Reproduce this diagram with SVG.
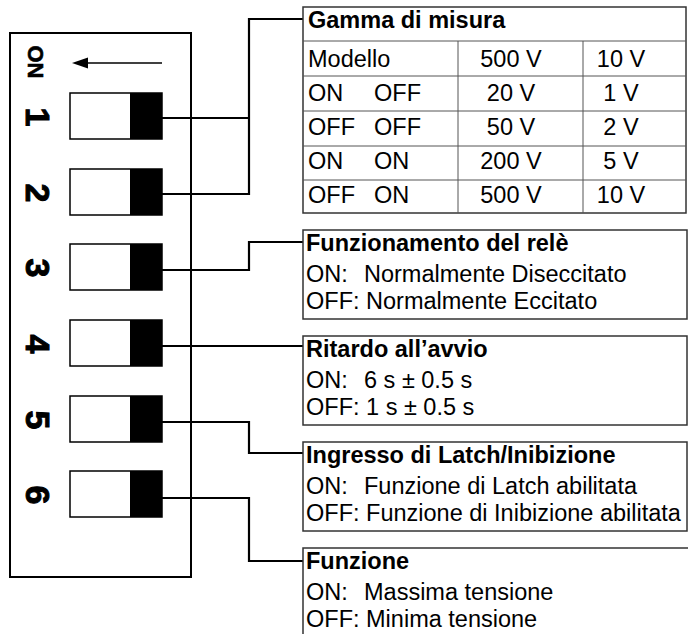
<svg xmlns="http://www.w3.org/2000/svg" width="688" height="634" viewBox="0 0 688 634">
<style>
text{font-family:"Liberation Sans",Arial,sans-serif;fill:#000}
.t{font-size:23.5px}
.b{font-size:23.5px;font-weight:bold}
.c{text-anchor:middle}
.num{font-size:34px;font-weight:bold;text-anchor:middle;stroke:#000;stroke-width:1}
.on{font-size:22px;font-weight:bold;text-anchor:middle;stroke:#000;stroke-width:0.6}
.box{fill:#fff;stroke:#333;stroke-width:1.5}
.grid{stroke:#555;stroke-width:1;fill:none}
.sw{fill:#fff;stroke:#000;stroke-width:1.5}
.knob{fill:#000}
.conn{fill:none;stroke:#000;stroke-width:2.2}
</style>
<defs>
<g id="switch"><rect class="sw" x="70" y="0" width="92" height="46"/><rect class="knob" x="130" y="0" width="32" height="46"/></g>
</defs>
<g id="dip">
<rect x="10" y="33" width="181" height="544" fill="#fff" stroke="#000" stroke-width="2"/>
<text class="on" transform="translate(36,62) rotate(90)" y="8">ON</text>
<line x1="162" y1="63" x2="84" y2="63" stroke="#000" stroke-width="1.6"/>
<polygon points="72,63 88,57.5 88,68.5" fill="#000"/>
</g>
<g id="sw1"><use href="#switch" y="93"/><text class="num" transform="translate(38,117) rotate(90)" y="12">1</text></g>
<g id="sw2"><use href="#switch" y="169"/><text class="num" transform="translate(38,193) rotate(90)" y="12">2</text></g>
<g id="sw3"><use href="#switch" y="244"/><text class="num" transform="translate(38,268) rotate(90)" y="12">3</text></g>
<g id="sw4"><use href="#switch" y="320"/><text class="num" transform="translate(38,344) rotate(90)" y="12">4</text></g>
<g id="sw5"><use href="#switch" y="396"/><text class="num" transform="translate(38,420) rotate(90)" y="12">5</text></g>
<g id="sw6"><use href="#switch" y="471"/><text class="num" transform="translate(38,495) rotate(90)" y="12">6</text></g>
<g id="connectors">
<polyline class="conn" points="162,118 249,118"/>
<polyline class="conn" points="162,194 249,194 249,19 303,19"/>
<polyline class="conn" points="162,270 249,270 249,242 303,242"/>
<polyline class="conn" points="162,346 303,346"/>
<polyline class="conn" points="162,422 249,422 249,453 303,453"/>
<polyline class="conn" points="162,498 249,498 249,561 303,561"/>
</g>
<g id="gamma">
<rect class="box" x="303" y="7" width="383" height="206"/>
<path class="grid" d="M303,41H686M303,76H686M303,111H686M303,146H686M303,180H686M458,41V213M583,41V213"/>
<text class="b" x="308" y="28">Gamma di misura</text>
<text class="t" x="308" y="67">Modello</text>
<text class="t c" x="511" y="67">500 V</text>
<text class="t c" x="621" y="67">10 V</text>
<text class="t" x="308" y="101">ON</text><text class="t" x="374" y="101">OFF</text>
<text class="t c" x="511" y="101">20 V</text><text class="t c" x="621" y="101">1 V</text>
<text class="t" x="308" y="135">OFF</text><text class="t" x="374" y="135">OFF</text>
<text class="t c" x="511" y="135">50 V</text><text class="t c" x="621" y="135">2 V</text>
<text class="t" x="308" y="169">ON</text><text class="t" x="374" y="169">ON</text>
<text class="t c" x="511" y="169">200 V</text><text class="t c" x="621" y="169">5 V</text>
<text class="t" x="308" y="203">OFF</text><text class="t" x="374" y="203">ON</text>
<text class="t c" x="511" y="203">500 V</text><text class="t c" x="621" y="203">10 V</text>
</g>
<g id="rele">
<rect class="box" x="303" y="230" width="384" height="89"/>
<text class="b" x="306" y="251">Funzionamento del relè</text>
<text class="t" x="306" y="282">ON:<tspan x="364">Normalmente Diseccitato</tspan></text>
<text class="t" x="306" y="309">OFF: Normalmente Eccitato</text>
</g>
<g id="ritardo">
<rect class="box" x="303" y="336" width="384" height="89"/>
<text class="b" x="306" y="357">Ritardo all’avvio</text>
<text class="t" x="306" y="388">ON:<tspan x="364">6 s ± 0.5 s</tspan></text>
<text class="t" x="306" y="415">OFF: 1 s ± 0.5 s</text>
</g>
<g id="latch">
<rect class="box" x="303" y="442" width="384" height="89"/>
<text class="b" x="306" y="463">Ingresso di Latch/Inibizione</text>
<text class="t" x="306" y="494">ON:<tspan x="364">Funzione di Latch abilitata</tspan></text>
<text class="t" x="306" y="521">OFF: Funzione di Inibizione abilitata</text>
</g>
<g id="funzione">
<rect class="box" x="303" y="548" width="400" height="100"/>
<text class="b" x="306" y="569">Funzione</text>
<text class="t" x="306" y="600">ON:<tspan x="364">Massima tensione</tspan></text>
<text class="t" x="306" y="627">OFF: Minima tensione</text>
</g>
</svg>
